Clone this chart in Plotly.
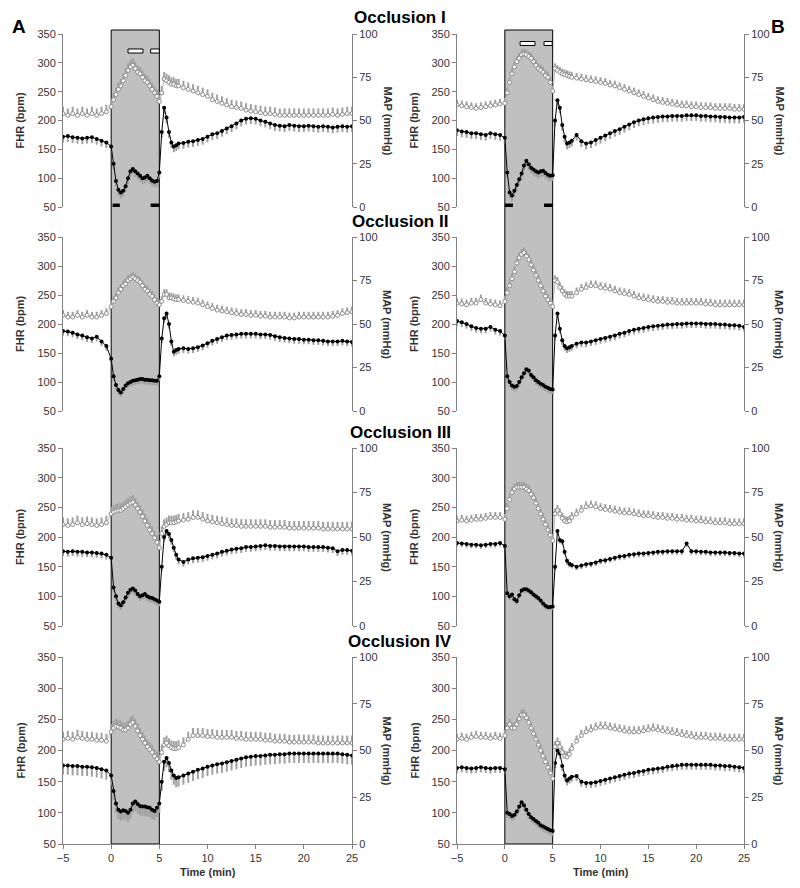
import plotly.graph_objects as go

# ---------------- data ----------------
TIME = [-5, -4.5, -4, -3.5, -3, -2.5, -2, -1.5, -1, -0.5,
        0, 0.25, 0.5, 0.75, 1, 1.25, 1.5, 1.75, 2, 2.25, 2.5, 2.75, 3, 3.25, 3.5, 3.75,
        4, 4.25, 4.5, 4.75, 5, 5.25, 5.5, 5.75, 6, 6.25, 6.5, 6.75, 7,
        7.5, 8, 8.5, 9, 9.5, 10, 10.5, 11, 11.5, 12, 12.5, 13, 13.5, 14, 14.5, 15,
        15.5, 16, 16.5, 17, 17.5, 18, 18.5, 19, 19.5, 20, 20.5, 21, 21.5, 22, 22.5,
        23, 23.5, 24, 24.5, 25]

FHR_A1 = [172, 173, 171, 170, 169, 170, 171, 168, 165, 162,
          155, 125, 95, 80, 75, 78, 86, 100, 112, 116, 112, 108, 104, 100, 101, 104,
          100, 96, 94, 95, 110, 180, 222, 205, 180, 162, 155, 157, 160,
          161, 163, 164, 166, 168, 172, 176, 178, 182, 186, 190, 195, 200, 203, 204, 203,
          200, 198, 195, 192, 191, 190, 192, 191, 190, 190, 191, 190, 189, 190, 189,
          188, 189, 190, 189, 190]
MAP_A1 = [54, 53, 54, 53, 54, 53, 54, 53, 54, 55,
          58, 62, 65, 68, 70, 73, 76, 79, 81, 82, 80, 78, 77, 75, 73, 72,
          70, 68, 66, 64, 61, 66, 74, 73, 72, 71, 71, 70, 70,
          69, 68, 67, 66, 65, 64, 62, 61, 60, 59, 58, 57.5, 57, 56, 55.5, 55,
          54.5, 54, 54, 53.5, 53, 53, 53, 53, 53, 53, 53, 53, 53, 53, 53,
          53.5, 53, 53.5, 54, 54]

FHR_A2 = [188, 187, 185, 182, 180, 177, 175, 178, 170, 162,
          140, 110, 95, 86, 82, 88, 94, 98, 100, 102, 103, 104, 105, 105, 104, 104,
          103, 103, 102, 102, 110, 175, 210, 218, 200, 170, 152, 155, 157,
          158, 157, 158, 160, 163, 167, 171, 174, 177, 180, 181, 182, 183, 183, 183, 183,
          182, 182, 181, 179, 177, 176, 175, 174, 174, 173, 173, 172, 172, 171, 170,
          170, 170, 171, 170, 169]
MAP_A2 = [55, 54, 54, 55, 54, 55, 54, 54, 55, 56,
          60, 63, 65, 68, 70, 72, 73, 75, 76, 77, 76, 75, 74, 72, 70, 69,
          67, 66, 64, 62, 61, 63, 67, 67, 65, 65, 64.5, 64, 64,
          63.5, 63, 62.5, 62, 61, 60, 59, 58, 57.5, 57, 56.5, 56, 55.5, 55.5, 55, 55,
          54.5, 54.5, 54, 54, 54, 54, 53.5, 53.5, 54, 54, 54, 54, 54, 54, 54,
          54.5, 55, 56, 56.5, 57]

FHR_A3 = [176, 175, 176, 175, 175, 174, 174, 173, 172, 170,
          165, 115, 100, 88, 85, 90, 98, 106, 111, 113, 110, 104, 100, 102, 104, 100,
          98, 97, 95, 93, 91, 150, 200, 210, 205, 195, 182, 170, 162,
          158, 162, 164, 165, 166, 168, 170, 172, 175, 177, 179, 180, 181, 183, 183, 184,
          185, 186, 185, 185, 184, 184, 184, 184, 184, 184, 183, 183, 183, 183, 182,
          181, 176, 178, 178, 177]
MAP_A3 = [57, 56.5, 57, 58, 57, 57.5, 57, 56.5, 57, 58,
          63, 64, 64.5, 65, 65, 66, 67, 68, 69, 69.5, 68, 66, 64, 61.5, 59, 56.5,
          54, 52, 49.5, 47, 44, 52, 56, 57, 58, 58, 58, 58.5, 59,
          59.5, 60, 61, 61, 60, 59, 58.5, 58, 57.5, 57, 56.5, 56.5, 56, 56, 56, 56,
          56, 56, 55.5, 55.5, 55.5, 55.5, 55, 55, 55, 55, 55, 55, 55, 54.5, 54.5,
          54.5, 54.5, 54.5, 54.5, 54.5]

FHR_A4 = [176, 176, 175, 175, 174, 174, 173, 172, 170, 168,
          160, 135, 115, 105, 102, 104, 103, 100, 105, 115, 118, 114, 111, 110, 110, 109,
          108, 105, 103, 108, 115, 150, 182, 188, 180, 168, 160, 156, 157,
          160, 163, 166, 169, 171, 174, 176, 178, 179, 181, 183, 185, 187, 189, 190, 191,
          191, 192, 193, 193, 194, 194, 195, 195, 195, 195, 195, 195, 195, 195, 195,
          195, 195, 194, 193, 192]
MAP_A4 = [56, 56.5, 56, 57, 56.5, 56, 56, 55.5, 55.5, 55,
          60, 62, 63, 62.5, 62, 61, 61, 62, 64, 65, 63, 60.5, 58, 56, 54, 52,
          50.5, 49, 47, 45.5, 44, 49, 53, 54, 52.5, 51.5, 51, 51, 51.5,
          53, 56, 58, 58, 58, 57.5, 57.5, 57, 57, 57, 57, 56.5, 56.5, 56, 56, 56,
          56, 55.5, 55.5, 55, 55, 55, 54.5, 54.5, 54.5, 54.5, 54.5, 54.5, 54, 54, 54,
          54, 54, 54, 54, 54]

FHR_B1 = [183, 181, 180, 178, 178, 176, 175, 178, 176, 175,
          170, 110, 75, 70, 78, 88, 98, 108, 122, 130, 124, 118, 115, 112, 110, 112,
          113, 109, 106, 104, 105, 200, 235, 222, 192, 172, 160, 162, 165,
          175, 164, 160, 162, 166, 170, 174, 178, 182, 185, 189, 193, 197, 200, 202, 204,
          205, 206, 207, 207, 208, 208, 208, 209, 209, 209, 208, 208, 207, 207, 206,
          206, 205, 205, 205, 206]
MAP_B1 = [59, 58.5, 58, 57.5, 57, 57.5, 58, 58.5, 59, 59.5,
          60, 66, 72, 77, 81, 84, 86, 88, 88.5, 88, 87, 86, 84, 82, 80, 79,
          78, 76, 75, 72, 67, 80, 79, 78, 77, 76.5, 76, 75.5, 75,
          74.5, 74, 73.5, 73, 72.5, 72, 71.5, 70.5, 70, 69, 68, 67, 66, 65, 64, 63,
          62, 61, 60.5, 60, 59.5, 59, 58.5, 58.5, 58, 58, 57.5, 57.5, 57.5, 57, 57,
          57, 57, 56.5, 56.5, 56.5]

FHR_B2 = [205, 203, 200, 196, 193, 192, 192, 195, 190, 188,
          180, 110, 100, 94, 92, 93, 100, 108, 115, 122, 120, 112, 108, 103, 100, 97,
          95, 92, 90, 88, 87, 180, 218, 192, 172, 162, 158, 160, 162,
          166, 168, 168, 170, 172, 174, 176, 178, 180, 183, 185, 188, 190, 192, 193, 195,
          196, 197, 198, 199, 199, 200, 200, 201, 201, 201, 201, 200, 200, 200, 199,
          199, 198, 198, 197, 195]
MAP_B2 = [62, 61.5, 61, 62, 62, 64, 62, 61.5, 61, 60.5,
          63, 68, 72, 76, 80, 85, 88, 90, 91, 89, 87, 84, 81, 78, 75, 72,
          69, 66, 64, 62, 60, 75, 74, 71, 69, 67, 66, 66, 66,
          68, 70, 71, 72, 72, 71, 70.5, 70, 69, 68, 67.5, 67, 66, 65, 64.5, 64,
          63.5, 63, 63, 62.5, 62.5, 62, 62, 62, 62, 62, 62, 61.5, 61.5, 61, 61,
          61, 61, 61, 61, 61]

FHR_B3 = [190, 189, 188, 187, 187, 186, 187, 188, 188, 190,
          185, 105, 100, 103, 95, 92, 102, 110, 112, 112, 110, 107, 103, 100, 97, 93,
          88, 84, 82, 82, 83, 150, 210, 195, 193, 175, 160, 155, 153,
          150, 152, 154, 155, 157, 160, 161, 163, 165, 167, 168, 170, 171, 172, 172, 173,
          174, 175, 175, 176, 176, 176, 176, 189, 176, 176, 175, 175, 174, 174, 174,
          174, 173, 173, 172, 172]
MAP_B3 = [59, 59.5, 59, 59.5, 60, 60, 60.5, 61, 61, 61,
          60, 66, 71, 75, 77, 78, 78, 78, 78, 77, 76, 74, 72, 69, 66, 63,
          60, 57, 54, 51, 48, 63, 65, 63, 60.5, 59, 58.5, 59, 61,
          63, 65, 67, 67.5, 67, 66, 65.5, 65, 64.5, 64, 63.5, 63.5, 63, 62.5, 62, 62,
          61.5, 61, 61, 60.5, 60.5, 60, 60, 59.5, 59.5, 59, 59, 58.5, 58.5, 58, 58,
          58, 57.5, 57.5, 57.5, 57.5]

FHR_B4 = [172, 173, 172, 171, 172, 173, 172, 171, 172, 172,
          170, 100, 98, 95, 97, 102, 110, 117, 112, 105, 98, 93, 90, 87, 84, 80,
          78, 76, 74, 72, 71, 180, 200, 195, 175, 160, 152, 155, 158,
          159, 150, 148, 148, 149, 151, 153, 155, 157, 159, 161, 163, 164, 166, 167, 169,
          170, 171, 172, 174, 175, 176, 177, 177, 177, 177, 177, 177, 177, 176, 176,
          175, 175, 174, 173, 172]
MAP_B4 = [56, 56.5, 56, 57, 57.5, 57, 57, 56.5, 57, 56.5,
          58, 62, 64, 62, 62, 64, 67, 69, 69, 67.5, 65, 62, 59, 56, 53, 50,
          47, 44, 41, 38, 35, 52, 54, 52, 49, 47, 46.5, 48, 51,
          55, 58, 60, 61, 62, 62.5, 62.5, 62, 61.5, 61, 60.5, 60, 60, 60, 60.5, 61,
          61.5, 61, 60.5, 60, 59.5, 59, 58.5, 58, 57.5, 57, 57, 57, 56.5, 56.5, 56.5,
          56, 56, 56, 56, 56]

FHR_SERIES = [[FHR_A1, FHR_B1], [FHR_A2, FHR_B2], [FHR_A3, FHR_B3], [FHR_A4, FHR_B4]]
MAP_SERIES = [[MAP_A1, MAP_B1], [MAP_A2, MAP_B2], [MAP_A3, MAP_B3], [MAP_A4, MAP_B4]]
FHR_SEM = [[10, 10], [8, 8], [8, 6], [15, 8]]
MAP_SEM = [[4, 3], [3, 3], [4, 3], [4, 3]]

TITLES = ["Occlusion I", "Occlusion II", "Occlusion III", "Occlusion IV"]
COL_LABELS = ["A", "B"]
X_TICKS = [-5, 0, 5, 10, 15, 20, 25]
FHR_TICKS = [50, 100, 150, 200, 250, 300, 350]
MAP_TICKS = [0, 25, 50, 75, 100]
OCCLUSION = [0, 5]
# marker bars in first panel (time intervals)
BLACK_BARS = [[[0.15, 0.9], [4.1, 5.0]], [[0.0, 0.85], [4.1, 5.0]]]
WHITE_BARS = [[[1.75, 3.3], [4.1, 5.0]], [[1.6, 3.15], [4.1, 4.95]]]
WHITE_BAR_LEVEL = [[317, 324], [330, 337]]

# ---------------- layout geometry ----------------
# page body has an 8px margin, so the figure is 792x880 placed at (8, 8)
OFF = 8
W, H = 800 - OFF, 888 - OFF
COL_X = [(63, 352), (457, 744)]
ROW_Y = [(34, 207), (237, 411), (448, 626), (657, 844)]
FONT = "Liberation Sans, Arial, sans-serif"
AXC = "#808080"
TXT = "#333333"

def px(x):
    return (x - OFF) / W

def py(y):
    return 1 - (y - OFF) / H

fig = go.Figure()
layout = dict(template="none", width=W, height=H, margin=dict(l=0, r=0, t=0, b=0, pad=0),
              paper_bgcolor="white", plot_bgcolor="rgba(0,0,0,0)",
              showlegend=False, font=dict(family=FONT, size=11, color=TXT))
shapes = []
annotations = []

def note(x, y, text, size, color=TXT, angle=0):
    annotations.append(dict(x=px(x), y=py(y), xref="paper", yref="paper", text=text,
                            textangle=angle, showarrow=False, xanchor="center",
                            yanchor="middle", font=dict(size=size, color=color, family=FONT)))

for i in range(4):
    for j in range(2):
        idx = i * 2 + j + 1
        idx2 = idx + 8
        xs = "" if idx == 1 else str(idx)
        bottom = (i == 3)
        xd = [px(COL_X[j][0]), px(COL_X[j][1])]
        yd = [py(ROW_Y[i][1]), py(ROW_Y[i][0])]
        layout["xaxis" + xs] = dict(
            domain=xd, range=[-5, 25], anchor="y" + xs, showgrid=False, zeroline=False,
            automargin=False,
            showline=bottom, linecolor=AXC, linewidth=1,
            ticks="outside" if bottom else "", ticklen=4, tickcolor=AXC,
            tickvals=X_TICKS, showticklabels=bottom,
            tickfont=dict(size=11, color=TXT, family=FONT))
        layout["yaxis" + xs] = dict(
            domain=yd, range=[50, 350], anchor="x" + xs, showgrid=False, zeroline=False,
            automargin=False,
            showline=True, linecolor=AXC, linewidth=1, ticks="outside", ticklen=4,
            tickcolor=AXC, tickvals=FHR_TICKS, tickfont=dict(size=11, color=TXT, family=FONT))
        layout["yaxis" + str(idx2)] = dict(
            range=[0, 100], overlaying="y" + xs, side="right", anchor="x" + xs,
            automargin=False,
            showgrid=False, zeroline=False, showline=True, linecolor=AXC, linewidth=1,
            ticks="outside", ticklen=4, tickcolor=AXC, tickvals=MAP_TICKS,
            tickfont=dict(size=11, color=TXT, family=FONT))

        fig.add_trace(go.Scatter(
            x=TIME, y=MAP_SERIES[i][j], xaxis="x" + xs, yaxis="y" + str(idx2),
            mode="lines+markers",
            line=dict(color="#b5b5b5", width=1),
            marker=dict(symbol="circle", size=4, color="white",
                        line=dict(color="#8a8a8a", width=1)),
            error_y=dict(type="constant", symmetric=False, value=MAP_SEM[i][j],
                         valueminus=0, color="#a0a0a0", thickness=2, width=0)))
        fig.add_trace(go.Scatter(
            x=TIME, y=FHR_SERIES[i][j], xaxis="x" + xs, yaxis="y" + xs,
            mode="lines+markers",
            line=dict(color="black", width=1),
            marker=dict(symbol="circle", size=4, color="black"),
            error_y=dict(type="constant", symmetric=False, value=0,
                         valueminus=FHR_SEM[i][j], color="#a0a0a0", thickness=2, width=0)))

        mid = (ROW_Y[i][0] + ROW_Y[i][1]) / 2
        note(COL_X[j][0] - 43, mid, "<b>FHR (bpm)</b>", 11, angle=-90)
        note(COL_X[j][1] + 35, mid, "<b>MAP (mmHg)</b>", 11, angle=90)

        if i == 0:
            for b in BLACK_BARS[j]:
                shapes.append(dict(type="rect", xref="x" + xs, yref="y" + xs,
                                   x0=b[0], x1=b[1], y0=50, y1=56,
                                   fillcolor="black", line=dict(width=0)))
            for b in WHITE_BARS[j]:
                shapes.append(dict(type="rect", xref="x" + xs, yref="y" + xs,
                                   x0=b[0], x1=b[1], y0=WHITE_BAR_LEVEL[j][0],
                                   y1=WHITE_BAR_LEVEL[j][1],
                                   fillcolor="white", line=dict(color="black", width=1)))

    note(400, ROW_Y[i][0] - 16, "<b>" + TITLES[i] + "</b>", 17, color="black")

# shaded occlusion period spanning each column
for j in range(2):
    xs = str(7 + j)
    shapes.append(dict(type="rect", xref="x" + xs, yref="paper",
                       x0=OCCLUSION[0], x1=OCCLUSION[1], y0=py(844), y1=py(30),
                       fillcolor="#c0c0c0", line=dict(color="black", width=1),
                       layer="below"))
    note((COL_X[j][0] + COL_X[j][1]) / 2, 872, "<b>Time (min)</b>", 11)

note(19, 26, "<b>A</b>", 19, color="black")
note(778, 26, "<b>B</b>", 19, color="black")

layout["shapes"] = shapes
layout["annotations"] = annotations
fig.update_layout(**layout)
fig.write_html("out.html")
